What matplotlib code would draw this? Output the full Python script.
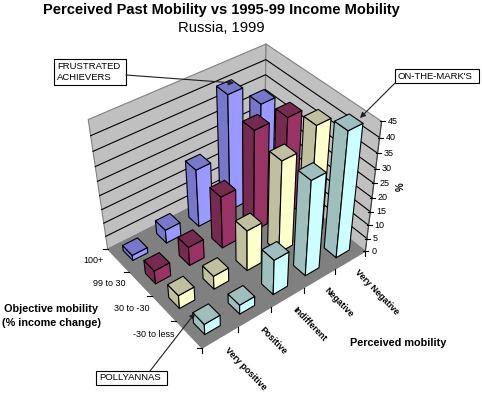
import numpy as np
import matplotlib
matplotlib.use("Agg")
import matplotlib.pyplot as plt
from matplotlib.patches import Polygon, Rectangle

plt.rcParams["font.family"] = ["Liberation Sans", "DejaVu Sans"]

perceived = ["Very positive", "Positive", "Indifferent", "Negative", "Very Negative"]
objective = ["-30 to less", "30 to -30", "99 to 30", "100+"]
z_ticks = [0, 5, 10, 15, 20, 25, 30, 35, 40, 45]

# share (%) per objective row, in order of perceived
row_low = [4, 3.5, 13, 34, 44]
row_mid = [5, 5, 15, 33, 39]
row_high = [5, 7, 19, 36, 35]
row_top = [2, 5, 21, 41, 33]
values = [row_low, row_mid, row_high, row_top]

left_colors = ["#9FBFBF", "#C0C0A0", "#772A50", "#7777CC"]
right_colors = ["#CCFFFF", "#FFFFCC", "#993366", "#9999FF"]

# calibration of the 3D box: (x, y, z) -> pixel
box = [(0, 0, 0), (5, 0, 0), (0, 4, 0), (5, 4, 0), (5, 0, 45), (0, 4, 45), (5, 4, 45)]
pix = [(202, 349), (365, 250), (107, 248), (265, 172), (382, 122), (89, 120), (265, 43)]


def fit_camera(box, pix):
    rows = []
    for (x, y, z), (u, v) in zip(box, pix):
        rows.append([x, y, z, 1, 0, 0, 0, 0, -u * x, -u * y, -u * z, -u])
        rows.append([0, 0, 0, 0, x, y, z, 1, -v * x, -v * y, -v * z, -v])
    _, _, vt = np.linalg.svd(np.array(rows, dtype=float))
    return vt[-1].reshape(3, 4)


cam = fit_camera(box, pix)


def proj(x, y, z=0):
    p = cam @ np.array([x, y, z, 1.0])
    return p[0] / p[2], p[1] / p[2]


def face(ax, pts, color, edge="black", lw=0.8, order=1):
    ax.add_patch(Polygon([proj(*p) for p in pts], closed=True, facecolor=color,
                         edgecolor=edge, linewidth=lw, zorder=order, joinstyle="round"))


fig = plt.figure(figsize=(4.82, 3.94), dpi=100)
ax = fig.add_axes([0, 0, 1, 1])
ax.set_xlim(0, 482)
ax.set_ylim(394, 0)
ax.axis("off")

# walls and floor
face(ax, [(0, 4, 0), (5, 4, 0), (5, 4, 45), (0, 4, 45)], "#C0C0C0", "#808080")
face(ax, [(5, 0, 0), (5, 4, 0), (5, 4, 45), (5, 0, 45)], "#C0C0C0", "#808080")
face(ax, [(0, 0, 0), (5, 0, 0), (5, 4, 0), (0, 4, 0)], "#808080", "#808080")

for z in z_ticks[1:-1]:
    a, b, c = proj(0, 4, z), proj(5, 4, z), proj(5, 0, z)
    ax.plot([a[0], b[0], c[0]], [a[1], b[1], c[1]], color="black", lw=0.8, zorder=2)

# bars, far ones first
bw = 0.22
cells = sorted(((i, j) for j in range(4) for i in range(5)), key=lambda c: -(c[0] + c[1]))
for n, (i, j) in enumerate(cells):
    h = values[j][i]
    x0, x1 = i + 0.5 - bw, i + 0.5 + bw
    y0, y1 = j + 0.5 - bw, j + 0.5 + bw
    order = 3 + n
    face(ax, [(x0, y0, 0), (x0, y1, 0), (x0, y1, h), (x0, y0, h)], left_colors[j], order=order)
    face(ax, [(x0, y0, 0), (x1, y0, 0), (x1, y0, h), (x0, y0, h)], right_colors[j], order=order)
    face(ax, [(x0, y0, h), (x1, y0, h), (x1, y1, h), (x0, y1, h)], left_colors[j], order=order)

# axis ticks
for i in range(6):
    u, v = proj(i, 0)
    ax.plot([u, u], [v, v + 5], color="black", lw=0.8, zorder=2)
for j in range(5):
    u, v = proj(0, j)
    ax.plot([u - 5, u], [v, v], color="black", lw=0.8, zorder=2)
a, b = proj(5, 0, 0), proj(5, 0, 45)
ax.plot([a[0], b[0]], [a[1], b[1]], color="#404040", lw=0.8, zorder=2)
for z in z_ticks:
    u, v = proj(5, 0, z)
    ax.plot([u - 2, u + 3], [v, v], color="black", lw=0.8, zorder=2)
    ax.text(u + 6, v, str(z), fontsize=6.5, ha="left", va="center")

# category labels
for i, name in enumerate(perceived):
    u, v = proj(i + 0.5, 0)
    ax.text(u + 6, v + 11, name, fontsize=6.5, rotation=-46, rotation_mode="anchor",
            ha="left", va="center", fontweight="bold")
for j, name in enumerate(objective):
    u, v = proj(0, j + 0.5)
    ax.text(u - 15, v, name, fontsize=6.5, ha="right", va="center")

# titles
ax.text(221, 10, "Perceived Past Mobility vs 1995-99 Income Mobility", fontsize=10.5,
        fontweight="bold", ha="center", va="center")
ax.text(221, 28, "Russia, 1999", fontsize=10.6, ha="center", va="center")
ax.text(51, 309, "Objective mobility", fontsize=7.8, fontweight="bold", ha="center", va="center")
ax.text(51, 323, "(% income change)", fontsize=7.8, fontweight="bold", ha="center", va="center")
ax.text(398, 343, "Perceived mobility", fontsize=7.8, fontweight="bold", ha="center", va="center")
ax.text(401, 187, "%", fontsize=7, fontweight="bold", rotation=90, ha="center", va="center")

# callouts
notes = [
    ("FRUSTRATED\nACHIEVERS", (54, 59, 72, 26), (126, 75), (234, 83)),
    ("ON-THE-MARK'S", (395, 69, 84, 14), (395, 83), (360, 118)),
    ("POLLYANNAS", (96, 371, 71, 14), (150, 371), (195, 313)),
]
for text, (x, y, w, h), start, end in notes:
    ax.add_patch(Rectangle((x, y), w, h, facecolor="white", edgecolor="black", lw=0.8, zorder=60))
    ax.text(x + 3, y + h / 2, text, fontsize=6.8, ha="left", va="center", zorder=61, linespacing=1.25)
    ax.annotate("", xy=end, xytext=start, zorder=62,
                arrowprops=dict(arrowstyle="-|>", color="#202020", lw=0.8, mutation_scale=8,
                                shrinkA=0, shrinkB=0))

fig.savefig("out.png", dpi=100)
plt.close(fig)
